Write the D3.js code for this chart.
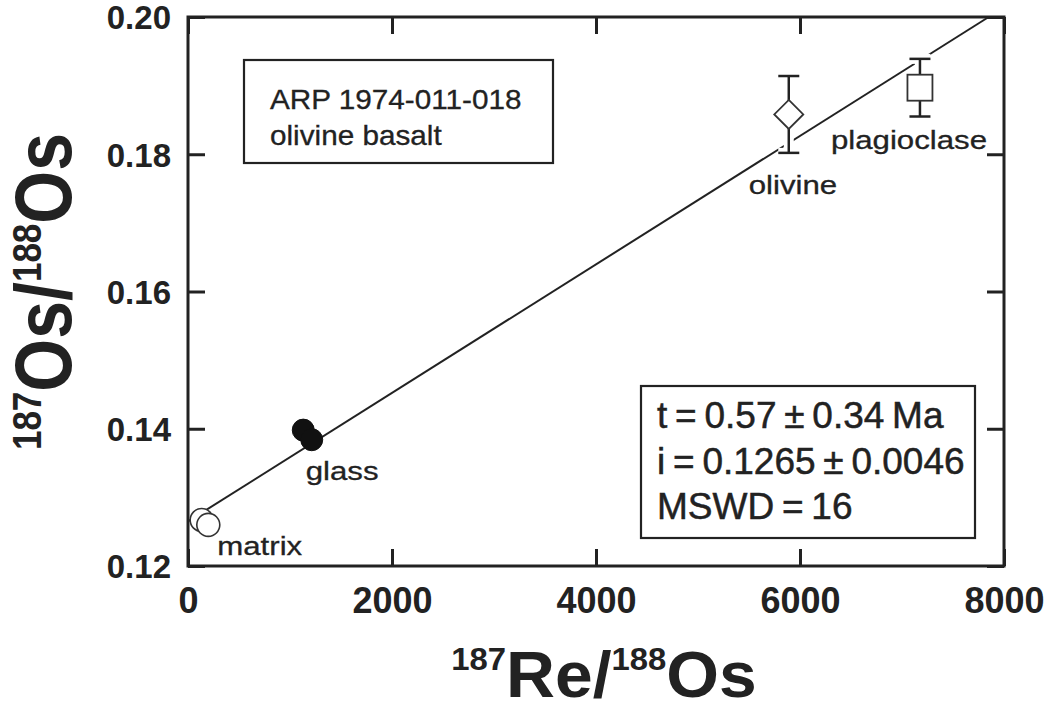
<!DOCTYPE html>
<html><head><meta charset="utf-8">
<script src="https://cdn.jsdelivr.net/npm/d3@7"></script>
<style>
html,body{margin:0;padding:0;background:#fff;}
svg{display:block;font-family:"Liberation Sans",Arial,Helvetica,sans-serif;}
</style></head>
<body>
<svg id="chart" width="1056" height="711"></svg>
<script>
// ---- data ----
const xTickValues = [0, 2000, 4000, 6000, 8000];
const yTickValues = [0.12, 0.14, 0.16, 0.18, 0.20];
const matrixPts = [{x: 134, y: 0.1267}, {x: 199, y: 0.1260}];
const glassPts = [{x: 1130, y: 0.1398}, {x: 1213, y: 0.1384}];
const olivinePts = [{x: 5890, y: 0.1858, err: 0.0056}];
const plagioclasePts = [{x: 7176, y: 0.1897, err: 0.0042}];
const isochron = [{x: 0, y: 0.1265}, {x: 7850, y: 0.2}];
const sampleLines = ["ARP 1974-011-018", "olivine basalt"];
const resultLines = ["t = 0.57 \u00B1 0.34 Ma", "i = 0.1265 \u00B1 0.0046", "MSWD = 16"];

// ---- layout ----
const svg = d3.select("#chart");
const L = 188, R = 1004, T = 17, B = 566;
const ink = "#222";
const x = d3.scaleLinear().domain([0, 8000]).range([L, R]);
const y = d3.scaleLinear().domain([0.12, 0.20]).range([B, T]);

// axes (ticks inward)
const inner = 17;
const gB = svg.append("g").attr("transform", `translate(0,${B})`)
  .call(d3.axisBottom(x).tickValues(xTickValues).tickSizeInner(-inner).tickSizeOuter(0).tickPadding(21).tickFormat(d3.format("d")));
const gT = svg.append("g").attr("transform", `translate(0,${T})`)
  .call(d3.axisTop(x).tickValues(xTickValues).tickSizeInner(-inner).tickSizeOuter(0).tickFormat(""));
const gL = svg.append("g").attr("transform", `translate(${L},0)`)
  .call(d3.axisLeft(y).tickValues(yTickValues).tickSizeInner(-inner).tickSizeOuter(0).tickPadding(17).tickFormat(d3.format(".2f")));
const gR = svg.append("g").attr("transform", `translate(${R},0)`)
  .call(d3.axisRight(y).tickValues(yTickValues).tickSizeInner(-inner).tickSizeOuter(0).tickFormat(""));
[gB, gT, gL, gR].forEach(g => {
  g.select(".domain").remove();
  g.selectAll(".tick line").attr("stroke", ink).attr("stroke-width", 3);
});
gB.selectAll(".tick text").attr("fill", ink).attr("font-size", 36).attr("font-weight", "bold")
  .attr("font-family", '"Liberation Sans",Arial,sans-serif');
gL.selectAll(".tick text").attr("fill", ink).attr("font-size", 33).attr("font-weight", "bold")
  .attr("font-family", '"Liberation Sans",Arial,sans-serif').attr("dy", "0.36em");

// frame
svg.append("rect").attr("x", L).attr("y", T).attr("width", R - L).attr("height", B - T)
  .attr("fill", "none").attr("stroke", ink).attr("stroke-width", 3);

// isochron line
svg.append("path").datum(isochron)
  .attr("d", d3.line().x(d => x(d.x)).y(d => y(d.y)))
  .attr("fill", "none").attr("stroke", ink).attr("stroke-width", 2);

// error bars with white halo
const capW = 21;
function errBars(data) {
  data.forEach(d => {
    const cx = x(d.x), yt = y(d.y + d.err), yb = y(d.y - d.err), cy = y(d.y);
    const segs = [[cx, yt, cx, cy], [cx, cy, cx, yb], [cx - capW / 2, yt, cx + capW / 2, yt], [cx - capW / 2, yb, cx + capW / 2, yb]];
    [["#fff", 10], [ink, 2.5]].forEach(([c, w]) => {
      segs.forEach(s => svg.append("line").attr("x1", s[0]).attr("y1", s[1]).attr("x2", s[2]).attr("y2", s[3])
        .attr("stroke", c).attr("stroke-width", w));
    });
  });
}
errBars(olivinePts);
errBars(plagioclasePts);

// markers
const mk = "#333";
svg.selectAll(".matrix").data(matrixPts).enter().append("circle")
  .attr("cx", d => x(d.x)).attr("cy", d => y(d.y)).attr("r", 11.5)
  .attr("fill", "#fff").attr("stroke", mk).attr("stroke-width", 1.6);
svg.selectAll(".glass").data(glassPts).enter().append("circle")
  .attr("cx", d => x(d.x)).attr("cy", d => y(d.y)).attr("r", 11)
  .attr("fill", "#111").attr("stroke", "#111").attr("stroke-width", 1);
svg.selectAll(".oliv").data(olivinePts).enter().append("path")
  .attr("d", d => { const cx = x(d.x), cy = y(d.y), h = 14.5; return `M${cx},${cy - h}L${cx + h},${cy}L${cx},${cy + h}L${cx - h},${cy}Z`; })
  .attr("fill", "#fff").attr("stroke", mk).attr("stroke-width", 1.8);
svg.selectAll(".plag").data(plagioclasePts).enter().append("rect")
  .attr("x", d => x(d.x) - 12.5).attr("y", d => y(d.y) - 13).attr("width", 25).attr("height", 26)
  .attr("fill", "#fff").attr("stroke", mk).attr("stroke-width", 1.8);

// point labels (slightly wide lettering as in the reference)
function label(txt, px, py, size, sx) {
  svg.append("text").attr("transform", `translate(${px},${py}) scale(${sx},1)`)
    .attr("font-size", size).attr("fill", ink).attr("stroke", ink).attr("stroke-width", 0.3).text(txt);
}
const mLast = matrixPts[matrixPts.length - 1], gLast = glassPts[glassPts.length - 1];
label("matrix", x(mLast.x) + 9, y(mLast.y) + 30, 26, 1.2);
label("glass", x(gLast.x) - 6, y(gLast.y) + 40, 26, 1.2);
label("olivine", x(olivinePts[0].x) - 40, y(olivinePts[0].y) + 80, 26, 1.2);
label("plagioclase", x(plagioclasePts[0].x) - 89, y(plagioclasePts[0].y) + 61, 26, 1.2);

// sample box
svg.append("rect").attr("x", 244).attr("y", 60).attr("width", 309).attr("height", 103)
  .attr("fill", "#fff").attr("stroke", ink).attr("stroke-width", 2.2);
sampleLines.forEach((t, i) => label(t, 270, 109 + i * 36, 27, 1.1));

// result box
svg.append("rect").attr("x", 641).attr("y", 386).attr("width", 334).attr("height", 152)
  .attr("fill", "#fff").attr("stroke", ink).attr("stroke-width", 2.2);
resultLines.forEach((t, i) => {
  svg.append("text").attr("x", 657).attr("y", 428 + i * 45.5).attr("font-size", 37)
    .attr("word-spacing", -2.5).attr("fill", ink).attr("stroke", ink).attr("stroke-width", 0.5).text(t);
});

// axis titles
const xt = svg.append("text").attr("x", (L + R) / 2 + 8).attr("y", 697).attr("text-anchor", "middle")
  .attr("font-weight", "bold").attr("fill", ink).attr("font-size", 64)
  .attr("transform", `translate(${(L + R) / 2 + 8},0) scale(1.06,1) translate(${-((L + R) / 2 + 8)},0)`);
xt.append("tspan").attr("font-size", 31).attr("dy", -27).text("187");
xt.append("tspan").attr("dy", 27).text("Re/");
xt.append("tspan").attr("font-size", 31).attr("dy", -27).text("188");
xt.append("tspan").attr("dy", 27).text("Os");

const yt = svg.append("text").attr("transform", `translate(71,${(T + B) / 2}) scale(1.17,1) rotate(-90)`)
  .attr("text-anchor", "middle").attr("font-weight", "bold").attr("fill", ink).attr("font-size", 68);
yt.append("tspan").attr("font-size", 35).attr("dy", -26).text("187");
yt.append("tspan").attr("dy", 26).text("Os/");
yt.append("tspan").attr("font-size", 35).attr("dy", -26).text("188");
yt.append("tspan").attr("dy", 26).text("Os");
</script>
</body></html>
